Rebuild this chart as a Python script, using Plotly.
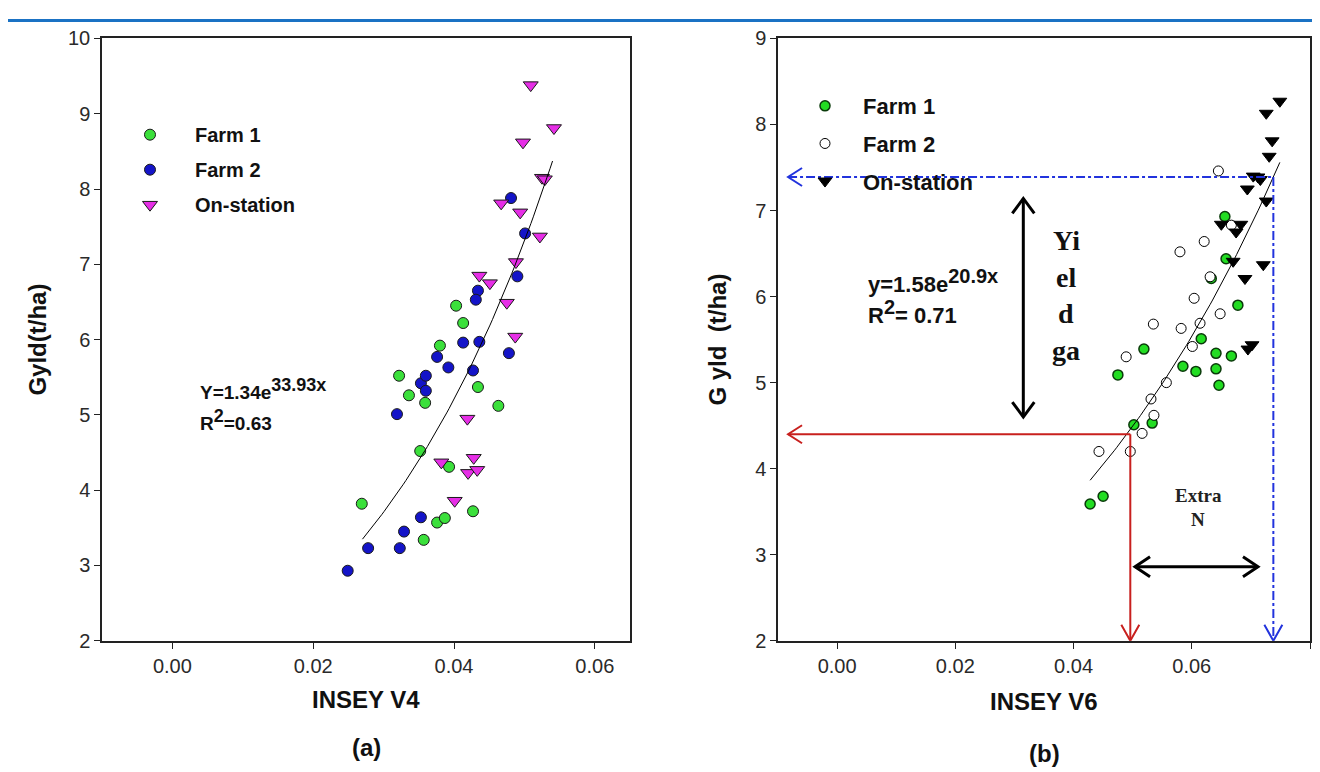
import numpy as np
import plotly.graph_objects as go

W, H = 1320, 772

# ---------------- Panel (a): INSEY V4 ----------------
f1_v4_x = [0.0269, 0.0322, 0.0336, 0.0359, 0.0352, 0.0380, 0.0357, 0.0376, 0.0387, 0.0393,
           0.0403, 0.0413, 0.0434, 0.0427, 0.0463]
f1_v4_y = [3.82, 5.52, 5.26, 5.16, 4.52, 5.92, 3.34, 3.57, 3.63, 4.31,
           6.45, 6.22, 5.37, 3.72, 5.12]

f2_v4_x = [0.0249, 0.0278, 0.0323, 0.0329, 0.0353, 0.0319, 0.0353, 0.0360, 0.0360, 0.0376,
           0.0392, 0.0413, 0.0436, 0.0427, 0.0434, 0.0431, 0.0478, 0.0481, 0.0490, 0.0501]
f2_v4_y = [2.93, 3.23, 3.23, 3.45, 3.64, 5.01, 5.42, 5.52, 5.32, 5.77,
           5.63, 5.96, 5.97, 5.59, 6.65, 6.53, 5.82, 7.88, 6.84, 7.41]

os_v4_x = [0.0509, 0.0542, 0.0498, 0.0525, 0.0529, 0.0467, 0.0494, 0.0522, 0.0488, 0.0436,
           0.0451, 0.0475, 0.0487, 0.0419, 0.0382, 0.0428, 0.0420, 0.0433, 0.0401]
os_v4_y = [9.38, 8.81, 8.62, 8.15, 8.13, 7.81, 7.69, 7.37, 7.03, 6.85,
           6.75, 6.49, 6.04, 4.95, 4.37, 4.43, 4.23, 4.27, 3.86]

fit_a_coef, fit_a_exp = 1.34, 33.93
fit_a_range = (0.027, 0.054)

# ---------------- Panel (b): INSEY V6 ----------------
f1_v6_x = [0.0428, 0.0450, 0.0502, 0.0533, 0.0475, 0.0519, 0.0585, 0.0607, 0.0641, 0.0667,
           0.0641, 0.0646, 0.0616, 0.0633, 0.0658, 0.0678, 0.0656]
f1_v6_y = [3.59, 3.68, 4.51, 4.53, 5.09, 5.39, 5.19, 5.13, 5.34, 5.31,
           5.16, 4.97, 5.51, 6.21, 6.44, 5.90, 6.93]

f2_v6_x = [0.0443, 0.0496, 0.0516, 0.0536, 0.0531, 0.0557, 0.0489, 0.0535, 0.0582, 0.0601,
           0.0614, 0.0648, 0.0604, 0.0631, 0.0580, 0.0621, 0.0667, 0.0645]
f2_v6_y = [4.20, 4.20, 4.41, 4.62, 4.81, 5.00, 5.30, 5.68, 5.63, 5.42,
           5.69, 5.80, 5.98, 6.23, 6.52, 6.64, 6.83, 7.46]

os_v6_x = [0.0749, 0.0726, 0.0736, 0.0731, 0.0704, 0.0712, 0.0716, 0.0694, 0.0726, 0.0650,
           0.0683, 0.0675, 0.0670, 0.0690, 0.0721, 0.0695, 0.0702]
os_v6_y = [8.27, 8.13, 7.81, 7.63, 7.40, 7.39, 7.36, 7.25, 7.11, 6.84,
           6.84, 6.75, 6.41, 6.21, 6.37, 5.39, 5.44]

fit_b_coef, fit_b_exp = 1.58, 20.9
fit_b_range = (0.0428, 0.0749)

# guide values for the yield-gap illustration
low_yield, low_insey = 4.40, 0.0496
high_yield, high_insey = 7.39, 0.0738
guide_left_x = -0.0083
gap_arrow_x, gap_arrow_y = (0.0315, (4.60, 7.14))
extra_n_y, extra_n_x = 2.86, (0.0504, 0.0712)

x_ticks_a = [0.0, 0.02, 0.04, 0.06]
x_ticks_b = [0.0, 0.02, 0.04, 0.06, 0.08]

def px(x):
    return x / W

def py(y):
    return 1 - y / H

fig = go.Figure()

ol = dict(color="#1a1a1a", width=1)
fig.add_trace(go.Scatter(x=f1_v4_x, y=f1_v4_y, mode="markers", name="Farm 1",
                         legend="legend", legendgroup="a1",
                         marker=dict(symbol="circle", size=11, color="#3be03b", line=ol),
                         xaxis="x", yaxis="y"))
fig.add_trace(go.Scatter(x=f2_v4_x, y=f2_v4_y, mode="markers", name="Farm 2",
                         legend="legend", legendgroup="a2",
                         marker=dict(symbol="circle", size=11, color="#1414c8", line=ol),
                         xaxis="x", yaxis="y"))
fig.add_trace(go.Scatter(x=os_v4_x, y=os_v4_y, mode="markers", name="On-station",
                         legend="legend", legendgroup="a3",
                         marker=dict(symbol="triangle-down", size=13, color="#e62ee6", line=ol),
                         xaxis="x", yaxis="y"))
xa = np.linspace(fit_a_range[0], fit_a_range[1], 80)
fig.add_trace(go.Scatter(x=xa, y=fit_a_coef * np.exp(fit_a_exp * xa), mode="lines",
                         line=dict(color="black", width=1), showlegend=False,
                         xaxis="x", yaxis="y"))

fig.add_trace(go.Scatter(x=f1_v6_x, y=f1_v6_y, mode="markers", name="Farm 1",
                         legend="legend2", legendgroup="b1",
                         marker=dict(symbol="circle", size=10, color="#22dd22",
                                     line=dict(color="#0a3a0a", width=1.5)),
                         xaxis="x2", yaxis="y2"))
fig.add_trace(go.Scatter(x=f2_v6_x, y=f2_v6_y, mode="markers", name="Farm 2",
                         legend="legend2", legendgroup="b2",
                         marker=dict(symbol="circle", size=10, color="white",
                                     line=dict(color="black", width=1)),
                         xaxis="x2", yaxis="y2"))
fig.add_trace(go.Scatter(x=os_v6_x, y=os_v6_y, mode="markers", name="On-station",
                         legend="legend2", legendgroup="b3",
                         marker=dict(symbol="triangle-down", size=12, color="black",
                                     line=dict(color="black", width=1)),
                         xaxis="x2", yaxis="y2"))
xb = np.linspace(fit_b_range[0], fit_b_range[1], 80)
fig.add_trace(go.Scatter(x=xb, y=fit_b_coef * np.exp(fit_b_exp * xb), mode="lines",
                         line=dict(color="black", width=1), showlegend=False,
                         xaxis="x2", yaxis="y2"))

NARROW = "Liberation Sans Narrow, Arial Narrow, Liberation Sans"
tickfont = dict(family=NARROW, size=20, color="#2a2a2a")
axis_common = dict(showgrid=False, zeroline=False, showline=True, mirror=True,
                   linecolor="#222", linewidth=1.5, ticks="outside", ticklen=6,
                   tickwidth=1.2, tickcolor="#222", tickfont=tickfont)

ydom = [py(640), py(20)]
fig.update_layout(
    width=W, height=H, margin=dict(l=0, r=0, t=0, b=0),
    paper_bgcolor="white", plot_bgcolor="white",
    xaxis=dict(domain=[px(94), px(622)], range=[-0.01, 0.065], tickvals=x_ticks_a,
               tickformat=".2f", anchor="y", **axis_common),
    yaxis=dict(domain=ydom, range=[2, 10], dtick=1, anchor="x", **axis_common),
    xaxis2=dict(domain=[px(770), px(1302)], range=[-0.01, 0.08], tickvals=x_ticks_b,
                tickformat=".2f", anchor="y2", **axis_common),
    yaxis2=dict(domain=ydom, range=[2, 9], dtick=1, anchor="x2", **axis_common),
    legend=dict(x=px(97), y=py(99), xanchor="left", yanchor="top",
                itemwidth=80, tracegroupgap=6, bgcolor="rgba(0,0,0,0)",
                font=dict(family="Liberation Sans, Arial", size=20, color="#111", weight="bold")),
    legend2=dict(x=px(779), y=py(68), xanchor="left", yanchor="top",
                 itemwidth=66, tracegroupgap=6, bgcolor="rgba(0,0,0,0)",
                 font=dict(family=NARROW, size=22, color="#111", weight="bold")),
)

ann = []
bold = dict(family="Liberation Sans, Arial", size=19, color="#111", weight="bold")
narrow_bold = dict(family=NARROW, size=22, color="#111", weight="bold")
sup_a = '<sup><span style="font-size:18px">%s</span></sup>'
sup_b = '<sup><span style="font-size:20px">%s</span></sup>'
ann.append(dict(x=px(190), y=py(381), text="Y=1.34e" + sup_a % "33.93x", font=bold))
ann.append(dict(x=px(190), y=py(413), text="R" + sup_a % "2" + "=0.63", font=bold))
ann.append(dict(x=px(858), y=py(270), text="y=1.58e" + sup_b % "20.9x", font=narrow_bold))
ann.append(dict(x=px(858), y=py(302), text="R" + sup_b % "2" + "= 0.71", font=narrow_bold))
for a in ann:
    a.update(xref="paper", yref="paper", xanchor="left", yanchor="middle", showarrow=False)

title_font = dict(family=NARROW, size=24, color="#111", weight="bold")
centered = []
centered.append(dict(x=px(358), y=py(700), text="INSEY V4", font=title_font))
centered.append(dict(x=px(358), y=py(750), text="(a)", font=title_font))
centered.append(dict(x=px(1036), y=py(703), text="INSEY V6", font=title_font))
centered.append(dict(x=px(1036), y=py(756), text="(b)", font=title_font))
centered.append(dict(x=px(30), y=py(330), text="Gyld(t/ha)", font=title_font, textangle=-90))
centered.append(dict(x=px(710), y=py(330), text="G yld  (t/ha)", font=title_font, textangle=-90))
serif = dict(family="Liberation Serif, Times New Roman", size=28, color="#111", weight="bold")
for t, yy in zip(["Yi", "el", "d", "ga"], [228, 266, 303, 341]):
    centered.append(dict(x=px(1058), y=py(yy), text=t, font=serif))
serif_s = dict(family="Liberation Serif, Times New Roman", size=19, color="#222", weight="bold")
centered.append(dict(x=px(1190), y=py(490), text="Extra", font=serif_s))
centered.append(dict(x=px(1190), y=py(515), text="N", font=serif_s))
for a in centered:
    a.update(xref="paper", yref="paper", xanchor="center", yanchor="middle", showarrow=False)
fig.update_layout(annotations=ann + centered)

shapes = []
# header rule
shapes.append(dict(type="line", xref="paper", yref="paper", x0=0, x1=1, y0=py(1.5), y1=py(1.5),
                   line=dict(color="#1a72c4", width=3)))
red = dict(color="#c8201e", width=2)
blue = dict(color="#2233dd", width=2, dash="dashdot")
shapes.append(dict(type="line", xref="x2", yref="y2", x0=guide_left_x, x1=low_insey,
                   y0=low_yield, y1=low_yield, line=red))
shapes.append(dict(type="line", xref="x2", yref="y2", x0=low_insey, x1=low_insey,
                   y0=low_yield, y1=2, line=red))
shapes.append(dict(type="line", xref="x2", yref="y2", x0=guide_left_x, x1=high_insey,
                   y0=high_yield, y1=high_yield, line=blue))
shapes.append(dict(type="line", xref="x2", yref="y2", x0=high_insey, x1=high_insey,
                   y0=high_yield, y1=2, line=blue))
blk = dict(color="black", width=3)
shapes.append(dict(type="line", xref="x2", yref="y2", x0=gap_arrow_x, x1=gap_arrow_x,
                   y0=gap_arrow_y[0], y1=gap_arrow_y[1], line=blk))
shapes.append(dict(type="line", xref="x2", yref="y2", x0=extra_n_x[0], x1=extra_n_x[1],
                   y0=extra_n_y, y1=extra_n_y, line=blk))


def chevron(xa_, ya_, path, line):
    return dict(type="path", xref="x2", yref="y2", xsizemode="pixel", ysizemode="pixel",
                xanchor=xa_, yanchor=ya_, path=path, line=line)

red_s = dict(color="#c8201e", width=2)
blue_s = dict(color="#2233dd", width=2)
shapes.append(chevron(guide_left_x, low_yield, "M 14,9 L 0,0 L 14,-9", red_s))
shapes.append(chevron(low_insey, 2, "M -9,16 L 0,0 L 9,16", red_s))
shapes.append(chevron(guide_left_x, high_yield, "M 14,9 L 0,0 L 14,-9", blue_s))
shapes.append(chevron(high_insey, 2, "M -9,16 L 0,0 L 9,16", blue_s))
shapes.append(chevron(gap_arrow_x, gap_arrow_y[1], "M -11,-15 L 0,0 L 11,-15", blk))
shapes.append(chevron(gap_arrow_x, gap_arrow_y[0], "M -11,15 L 0,0 L 11,15", blk))
shapes.append(chevron(extra_n_x[0], extra_n_y, "M 15,10 L 0,0 L 15,-10", blk))
shapes.append(chevron(extra_n_x[1], extra_n_y, "M -15,10 L 0,0 L -15,-10", blk))
fig.update_layout(shapes=shapes)

fig.write_html("out.html")
